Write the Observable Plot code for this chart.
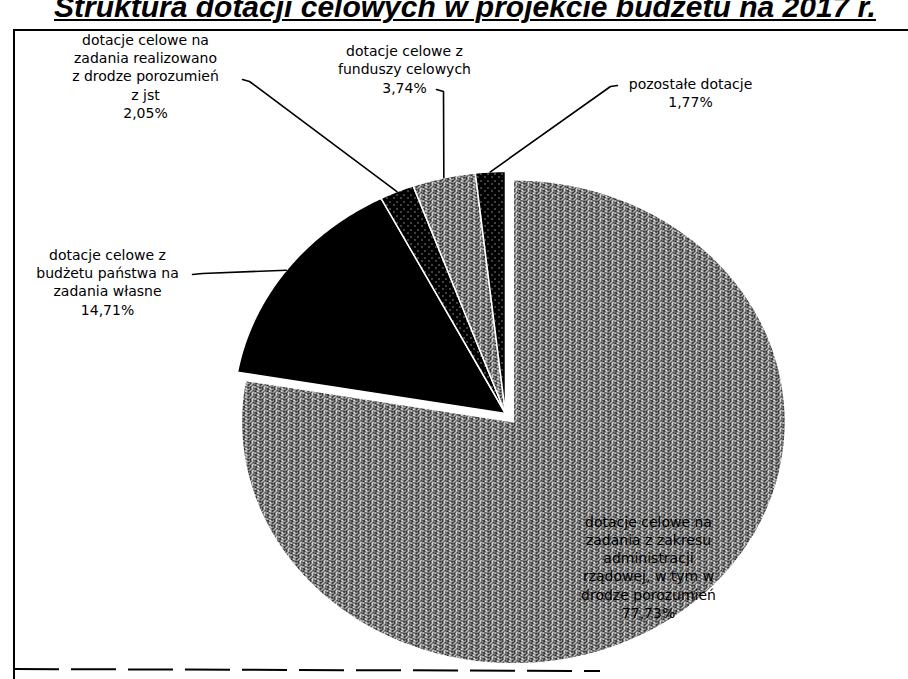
<!DOCTYPE html>
<html>
<head>
<meta charset="utf-8">
<script src="https://cdn.jsdelivr.net/npm/d3@7"></script>
<script src="https://cdn.jsdelivr.net/npm/@observablehq/plot@0.6"></script>
<style>
  html, body { margin: 0; padding: 0; background: #fff; }
  #wrap { position: relative; width: 908px; height: 679px; overflow: hidden; }
  #title { position: absolute; left: 0; top: -8px; width: 908px; text-align: center;
    font: italic bold 30px "Liberation Sans", Arial, sans-serif; line-height: 30px;
    text-decoration: underline; text-decoration-thickness: 2px; text-underline-offset: 2px; color: #000; padding-left: 22px; box-sizing: border-box; white-space: nowrap; }
  #chart { position: absolute; left: 0; top: 0; }
</style>
</head>
<body>
<svg width="0" height="0" style="position:absolute">
  <defs>
    <pattern id="maze" width="12" height="6" patternUnits="userSpaceOnUse">
      <rect width="12" height="6" fill="#fff"/>
      <rect x="0" y="0" width="4" height="1" fill="#000"/>
      <rect x="6" y="0" width="3" height="1" fill="#000"/>
      <rect x="2" y="1" width="3" height="1" fill="#555"/>
      <rect x="8" y="1" width="1" height="1" fill="#000"/>
      <rect x="10" y="1" width="2" height="1" fill="#000"/>
      <rect x="1" y="2" width="1" height="1" fill="#000"/>
      <rect x="4" y="2" width="4" height="1" fill="#000"/>
      <rect x="9" y="2" width="2" height="1" fill="#666"/>
      <rect x="0" y="3" width="2" height="1" fill="#666"/>
      <rect x="3" y="3" width="1" height="1" fill="#000"/>
      <rect x="7" y="3" width="4" height="1" fill="#000"/>
      <rect x="1" y="4" width="4" height="1" fill="#000"/>
      <rect x="6" y="4" width="2" height="1" fill="#666"/>
      <rect x="10" y="4" width="1" height="1" fill="#000"/>
      <rect x="0" y="5" width="1" height="1" fill="#000"/>
      <rect x="3" y="5" width="3" height="1" fill="#666"/>
      <rect x="8" y="5" width="3" height="1" fill="#000"/>
    </pattern>
    <pattern id="dots" width="7" height="7" patternUnits="userSpaceOnUse">
      <rect width="7" height="7" fill="#000"/>
      <rect x="1" y="1" width="1" height="1" fill="#fff"/>
      <rect x="4" y="5" width="1" height="1" fill="#fff"/>
    </pattern>
  </defs>
</svg>
<div id="wrap">
  <div id="title">Struktura dotacji celowych w projekcie budżetu na 2017 r.</div>
  <div id="chart"></div>
</div>
<script>
// ---- data ----
const categories = [
  "dotacje celowe na zadania z zakresu administracji rządowej, w tym w drodze porozumień",
  "dotacje celowe z budżetu państwa na zadania własne",
  "dotacje celowe na zadania realizowano z drodze porozumień z jst",
  "dotacje celowe z funduszy celowych",
  "pozostałe dotacje"
];
const values = [77.73, 14.71, 2.05, 3.74, 1.77];
const valueLabels = ["77,73%", "14,71%", "2,05%", "3,74%", "1,77%"];
const labelLines = [
  ["dotacje celowe na", "zadania z zakresu", "administracji", "rządowej, w tym w", "drodze porozumień"],
  ["dotacje celowe z", "budżetu państwa na", "zadania własne"],
  ["dotacje celowe na", "zadania realizowano", "z drodze porozumień", "z jst"],
  ["dotacje celowe z", "funduszy celowych"],
  ["pozostałe dotacje"]
];
const fills = ["url(#maze)", "#000", "url(#dots)", "url(#maze)", "url(#dots)"];

// ---- layout ----
const W = 908, H = 679;
const CX = 505, CY = 413, RX = 272, RY = 242;   // pixel centre and radii of the pie
const u = (px, py) => [(px - CX) / RX, (CY - py) / RY]; // layout pixels -> chart units
const explode = [0.045, 0, 0, 0, 0];
// label block centres (pixels, layout only)
const labelPos = [[648, 566], [107, 281], [145, 75], [404, 68], [690, 92]];
// leader start points (pixels, layout only)
const leaderStart = [
  null,
  [[192, 274], [202, 273]],
  [[242, 79], [249, 81]],
  [[436, 89], [443, 91]],
  [[617, 85], [610, 86]]
];

const total = d3.sum(values);
let acc = 0;
const slices = values.map((v, i) => {
  const a0 = acc / total * 2 * Math.PI;
  acc += v;
  const a1 = acc / total * 2 * Math.PI;
  return {i, a0, a1, mid: (a0 + a1) / 2};
});

// polygon points for each slice (angle clockwise from north)
const polyPts = [];
slices.forEach(s => {
  const ox = explode[s.i] * Math.sin(s.mid), oy = explode[s.i] * Math.cos(s.mid);
  const n = Math.max(8, Math.ceil((s.a1 - s.a0) / 0.01));
  polyPts.push({k: s.i, x: ox, y: oy});
  for (let j = 0; j <= n; j++) {
    const a = s.a0 + (s.a1 - s.a0) * j / n;
    polyPts.push({k: s.i, x: ox + Math.sin(a), y: oy + Math.cos(a)});
  }
  polyPts.push({k: s.i, x: ox, y: oy});
});

// leader lines: start points, then slice edge at mid angle
const leaderPts = [];
slices.forEach(s => {
  if (!leaderStart[s.i]) return;
  leaderStart[s.i].forEach(p => { const q = u(p[0], p[1]); leaderPts.push({k: s.i, x: q[0], y: q[1]}); });
  leaderPts.push({k: s.i, x: Math.sin(s.mid), y: Math.cos(s.mid)});
});

const labels = slices.map(s => {
  const q = u(labelPos[s.i][0], labelPos[s.i][1]);
  return {text: labelLines[s.i].concat([valueLabels[s.i]]).join("\n"), x: q[0], y: q[1]};
});

const xDomain = [-CX / RX, (W - CX) / RX];
const yDomain = [(CY - H) / RY, CY / RY];

const chart = Plot.plot({
  width: W, height: H,
  margin: 0,
  x: {domain: xDomain, axis: null},
  y: {domain: yDomain, axis: null},
  color: {type: "ordinal", domain: d3.range(values.length), range: fills},
  style: {background: "transparent"},
  marks: [
    Plot.line(polyPts, {x: "x", y: "y", z: "k", fill: "k", stroke: "#fff", strokeWidth: 1.5, curve: "linear"}),
    Plot.line(leaderPts, {x: "x", y: "y", z: "k", stroke: "#000", strokeWidth: 1.6}),
    Plot.text(labels, {x: "x", y: "y", text: "text", lineHeight: 1.3, fontSize: 14,
      fontFamily: "'DejaVu Sans', sans-serif", fill: "#000", stroke: "none"})
  ]
});
document.getElementById("chart").appendChild(chart);

// chart frame (scanned border)
d3.select(chart).append("path")
  .attr("d", `M14,${H} L14,30 L${W},30`)
  .attr("fill", "none").attr("stroke", "#000").attr("stroke-width", 2);
d3.select(chart).append("line")
  .attr("x1", 14).attr("x2", 600).attr("y1", 669).attr("y2", 671)
  .attr("stroke", "#000").attr("stroke-width", 2).attr("stroke-dasharray", "45,12");
</script>
</body>
</html>
